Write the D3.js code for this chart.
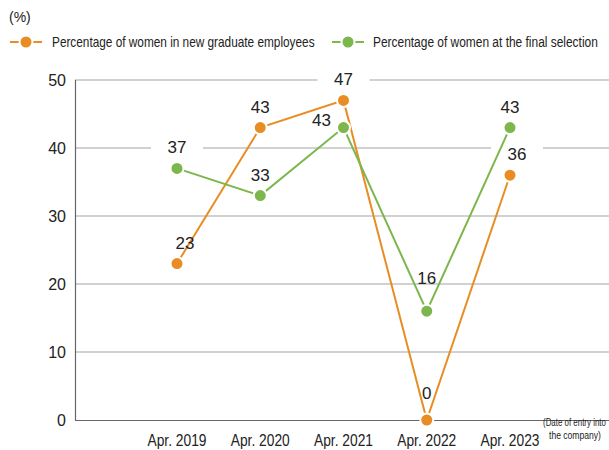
<!DOCTYPE html>
<html>
<head>
<meta charset="utf-8">
<script src="https://cdn.jsdelivr.net/npm/d3@7"></script>
<style>
  body { margin: 0; background: #fff; }
  text { fill: #222; }
</style>
</head>
<body>
<div id="chart"></div>
<script>
// data
var years = ["Apr. 2019", "Apr. 2020", "Apr. 2021", "Apr. 2022", "Apr. 2023"];
var newGrad = [23, 43, 47, 0, 36];
var finalSel = [37, 33, 43, 16, 43];
var yTicks = [0, 10, 20, 30, 40, 50];
var seriesNames = ["Percentage of women in new graduate employees", "Percentage of women at the final selection"];

var W = 609, H = 450;
var font = "'Liberation Sans', Arial, sans-serif";
var orange = "#e88d24", green = "#7cb64d";

var svg = d3.select("#chart").append("svg")
    .attr("width", W)
    .attr("height", H);

var x = d3.scalePoint().domain(years).range([177, 510]);
var y = d3.scaleLinear().domain([0, 50]).range([420, 80]);

// condensed text: draw at origin, then squeeze the group to width w
function narrowText(px, py, size, str, w) {
  var g = svg.append("g");
  var t = g.append("text")
      .style("font-family", font)
      .style("font-size", size + "px")
      .text(str);
  var sx = w / t.node().getComputedTextLength();
  g.attr("transform", "translate(" + px + "," + py + ") scale(" + sx + ",1)");
  return t;
}

// gridlines
svg.append("g").selectAll("line")
    .data(yTicks.filter(function(d) { return d > 0; }))
  .enter().append("line")
    .attr("x1", 75).attr("x2", W)
    .attr("y1", function(d) { return y(d); })
    .attr("y2", function(d) { return y(d); })
    .attr("stroke", "#a3a3a3")
    .attr("stroke-width", 1);

// frame
svg.append("line").attr("x1", 75.5).attr("x2", 75.5).attr("y1", y(50)).attr("y2", y(0) + 0.5)
    .attr("stroke", "#666").attr("stroke-width", 1.2);
svg.append("line").attr("x1", 75).attr("x2", W).attr("y1", y(0) + 0.5).attr("y2", y(0) + 0.5)
    .attr("stroke", "#666").attr("stroke-width", 1.2);

// y tick labels
svg.append("g").selectAll("text")
    .data(yTicks)
  .enter().append("text")
    .attr("x", 66)
    .attr("y", function(d) { return y(d) + 6; })
    .attr("text-anchor", "end")
    .style("font-family", font)
    .style("font-size", "16px")
    .text(function(d) { return d; });

// x labels
years.forEach(function(d) {
  narrowText(x(d) - 29.5, 446, 16, d, 59);
});

narrowText(543, 426, 11.5, "(Date of entry into", 63);
narrowText(549, 439, 11.5, "the company)", 52);

// unit
svg.append("text").attr("x", 9).attr("y", 22)
    .style("font-family", font).style("font-size", "14px").text("(%)");

var series = [
  { name: seriesNames[0], values: newGrad, color: orange },
  { name: seriesNames[1], values: finalSel, color: green }
];

// label nudges (series-point) -> [dx, dy]
var nudge = { "0-0": [8, 0], "1-2": [-22, 13], "0-4": [7, 0], "1-3": [0, -12], "0-3": [0, -6] };
function ldx(si, i) { return (nudge[si + "-" + i] || [0, 0])[0]; }
function ldy(si, i) { return (nudge[si + "-" + i] || [0, 0])[1]; }

// label backgrounds, covering gridlines
series.forEach(function(s, si) {
  svg.append("g").selectAll("rect")
      .data(s.values)
    .enter().append("rect")
      .attr("x", function(d, i) { return x(years[i]) + ldx(si, i) - 26; })
      .attr("y", function(d, i) { return y(d) - 31 + ldy(si, i); })
      .attr("width", 52)
      .attr("height", 20)
      .attr("fill", function(d, i) { return si === 1 && i === 3 ? "none" : "#fff"; });
});

var line = d3.line()
    .x(function(d, i) { return x(years[i]); })
    .y(function(d) { return y(d); });

series.forEach(function(s, si) {
  var g = svg.append("g");
  g.append("path")
      .datum(s.values)
      .attr("d", line)
      .attr("fill", "none")
      .attr("stroke", s.color)
      .attr("stroke-width", 2);
  g.selectAll("circle")
      .data(s.values)
    .enter().append("circle")
      .attr("cx", function(d, i) { return x(years[i]); })
      .attr("cy", function(d) { return y(d); })
      .attr("r", 6.5)
      .attr("fill", s.color)
      .attr("stroke", "#fff")
      .attr("stroke-width", 2);
  g.selectAll("text")
      .data(s.values)
    .enter().append("text")
      .attr("x", function(d, i) { return x(years[i]) + ldx(si, i); })
      .attr("y", function(d, i) { return y(d) - 15 + ldy(si, i); })
      .attr("text-anchor", "middle")
      .style("font-family", font)
      .style("font-size", "17px")
      .text(function(d) { return d; });
});

// legend
var legX = [10, 332];
var legText = [52, 373];
var legW = [263, 225];
series.forEach(function(s, i) {
  var lg = svg.append("g");
  lg.append("line").attr("x1", legX[i]).attr("x2", legX[i] + 32).attr("y1", 42).attr("y2", 42)
      .attr("stroke", s.color).attr("stroke-width", 2);
  lg.append("circle").attr("cx", legX[i] + 16).attr("cy", 42).attr("r", 6.5)
      .attr("fill", s.color).attr("stroke", "#fff").attr("stroke-width", 2);
  narrowText(legText[i], 47, 14, s.name, legW[i]);
});
</script>
</body>
</html>
